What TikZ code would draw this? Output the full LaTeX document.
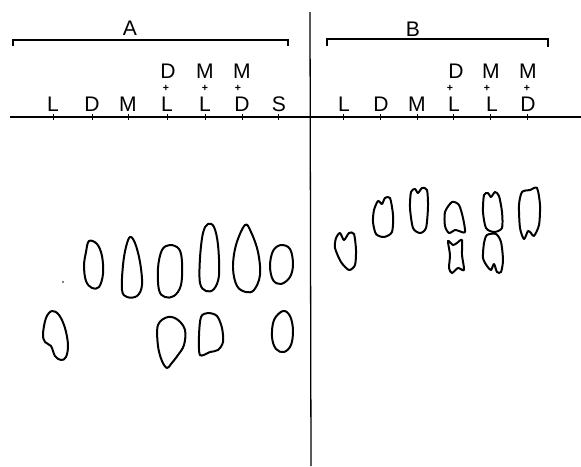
\documentclass[tikz,border=0pt]{standalone}
\usepackage{fontspec}
\setmainfont{Liberation Sans}
\usetikzlibrary{positioning}

\begin{document}
\begin{tikzpicture}[
  x=0.03cm, y=-0.03cm,
  lbl/.style={font=\fontsize{18}{18}\selectfont, inner sep=0pt},
  plus/.style={font=\fontsize{9}{9}\selectfont\bfseries, inner sep=0pt},
  spot/.style={line width=1.7pt, line join=round},
  bracket/.style={line width=0.9pt},
  tick/.style={line width=0.8pt},
]
  \useasboundingbox (0,0) rectangle (581,466);

  % Axes: start line and divider
  \coordinate (base0) at (10,117);
  \coordinate (base1) at (581,117);
  \coordinate (div0) at (310,12);
  \coordinate (div1) at (311,466);
  \draw[line width=1.6pt] (base0) -- (base1);
  \draw[line width=1.1pt] (div0) -- (div1);

  % Brackets and group letters
  \draw[bracket] (13,46) -- (13,40) -- (288,40) -- (288,46);
  \node[lbl] (grpA) at (130,28) {A};
  \draw[bracket] (327,46) -- (327,39) -- (548,39) -- (548,47);
  \node[lbl] (grpB) at (413,29) {B};

  % Lane ticks
  \foreach \x in {53,92,128,167,205,242,278,343,380,417,453,490,527}
    \draw[tick] (\x,114) -- (\x,120);

  % Lane labels, panel A
  \node[lbl] (aL) at (53,104) {L};
  \node[lbl] (aD) at (92,104) {D};
  \node[lbl] (aM) at (128,104) {M};
  \node[lbl] (aDL) at (167,104) {L};
  \node[plus] (aDLp) at (166,88) {+};
  \node[lbl] (aDLt) at (168,71) {D};
  \node[lbl] (aML) at (205,104) {L};
  \node[plus] (aMLp) at (205,88) {+};
  \node[lbl] (aMLt) at (205,71) {M};
  \node[lbl] (aMD) at (242,104) {D};
  \node[plus] (aMDp) at (238,88) {+};
  \node[lbl] (aMDt) at (242,71) {M};
  \node[lbl] (aS) at (279,104) {S};

  % Lane labels, panel B
  \node[lbl] (bL) at (344,104) {L};
  \node[lbl] (bD) at (381,104) {D};
  \node[lbl] (bM) at (417,104) {M};
  \node[lbl] (bDL) at (454,104) {L};
  \node[plus] (bDLp) at (450,88) {+};
  \node[lbl] (bDLt) at (456,71) {D};
  \node[lbl] (bML) at (492,104) {L};
  \node[plus] (bMLp) at (487,88) {+};
  \node[lbl] (bMLt) at (491,71) {M};
  \node[lbl] (bMD) at (528,104) {D};
  \node[plus] (bMDp) at (527,88) {+};
  \node[lbl] (bMDt) at (528,71) {M};

  % Spots, panel A, upper row
  \draw[spot] plot[smooth cycle, tension=0.6] coordinates {(89,241) (97,244) (102,256) (103,274) (99,287) (92,288) (86,281) (84,266) (86,252)};
  \draw[spot] plot[smooth cycle, tension=0.6] coordinates {(130,237) (135,243) (140,262) (142,285) (137,296) (127,297) (122,290) (123,265) (126,247)};
  \draw[spot] plot[smooth cycle, tension=0.6] coordinates {(170,245) (179,249) (182,262) (181,285) (174,296) (165,297) (159,290) (158,268) (162,250)};
  \draw[spot] plot[smooth cycle, tension=0.6] coordinates {(208,224) (214,227) (218,245) (219,275) (214,289) (206,291) (200,283) (200,258) (203,233)};
  \draw[spot] plot[smooth cycle, tension=0.6] coordinates {(245,225) (251,232) (258,252) (260,275) (254,290) (246,292) (237,286) (233,268) (236,245)};
  \draw[spot] plot[smooth cycle, tension=0.6] coordinates {(281,245) (290,249) (293,264) (290,277) (281,284) (273,280) (270,266) (273,251)};
  \fill (63,282) circle (0.8);

  % Spots, panel A, lower row
  \draw[spot] plot[smooth cycle, tension=0.6] coordinates {(52,311) (59,315) (65,328) (68,345) (66,357) (61,360) (55,356) (51,346) (45,342) (43,334) (46,318)};
  \draw[spot] plot[smooth cycle, tension=0.6] coordinates {(168,317) (178,320) (185,330) (184,345) (178,355) (171,364) (167,368) (162,361) (158,346) (158,325)};
  \draw[spot] plot[smooth cycle, tension=0.5] coordinates {(201,317) (208,313) (217,316) (222,328) (223,342) (218,350) (210,352) (200,355) (199,336)};
  \draw[spot] plot[smooth cycle, tension=0.6] coordinates {(283,311) (290,316) (293,330) (291,345) (284,352) (276,349) (272,337) (274,320)};

  % Spots, panel B
  \draw[spot] plot[smooth cycle, tension=0.45] coordinates {(336,238) (340,233) (344,240) (349,233) (354,234) (356,250) (355,265) (349,270) (341,262) (335,248)};
  \draw[spot] plot[smooth cycle, tension=0.45] coordinates {(374,210) (378,201) (382,204) (385,198) (390,198) (393,215) (392,232) (384,237) (376,234) (373,222)};
  \draw[spot] plot[smooth cycle, tension=0.45] coordinates {(411,192) (415,189) (418,193) (422,188) (427,190) (428,207) (426,228) (420,233) (413,228) (410,208)};
  \draw[spot] plot[smooth cycle, tension=0.45] coordinates {(452,202) (459,205) (463,218) (465,232) (459,231) (455,230) (449,233) (445,226) (445,212)};
  \draw[spot] plot[smooth cycle, tension=0.45] coordinates {(448,241) (453,245) (457,243) (462,240) (462,255) (464,270) (458,268) (452,273) (449,268) (450,255)};
  \draw[spot] plot[smooth cycle, tension=0.45] coordinates {(484,195) (488,193) (491,197) (495,192) (499,196) (502,212) (502,228) (494,232) (486,228) (483,212)};
  \draw[spot] plot[smooth cycle, tension=0.45] coordinates {(487,235) (496,234) (501,242) (503,260) (501,272) (497,272) (494,264) (491,270) (487,266) (483,258) (484,243)};
  \draw[spot] plot[smooth cycle, tension=0.45] coordinates {(522,192) (530,190) (537,188) (540,205) (539,225) (534,236) (531,233) (528,231) (524,239) (520,228) (519,205)};
\end{tikzpicture}
\end{document}
